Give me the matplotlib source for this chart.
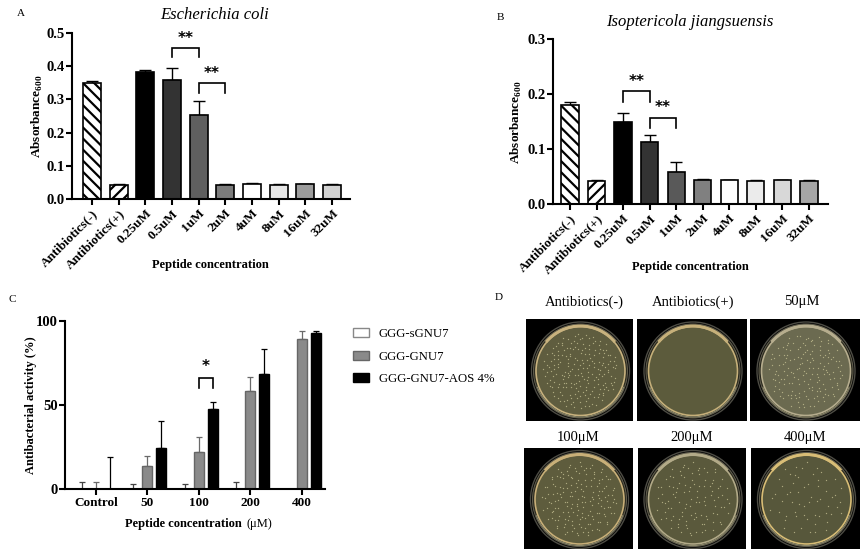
import numpy as np
import matplotlib
matplotlib.use("Agg")
import matplotlib.pyplot as plt
from matplotlib.patches import Circle, Arc, Rectangle

# ---------------- data ----------------
a_cats = ["Antibiotics(-)", "Antibiotics(+)", "0.25uM", "0.5uM", "1uM",
          "2uM", "4uM", "8uM", "16uM", "32uM"]
a_vals = [0.348, 0.043, 0.383, 0.357, 0.254, 0.043, 0.045, 0.043, 0.044, 0.043]
a_err = [0.006, 0.001, 0.006, 0.038, 0.040, 0.001, 0.002, 0.001, 0.001, 0.001]

b_cats = ["Antibiotics(-)", "Antibiotics(+)", "0.25uM", "0.5uM", "1uM",
          "2uM", "4uM", "8uM", "16uM", "32uM"]
b_vals = [0.180, 0.042, 0.149, 0.113, 0.059, 0.043, 0.043, 0.042, 0.043, 0.042]
b_err = [0.006, 0.001, 0.017, 0.012, 0.017, 0.002, 0.001, 0.001, 0.001, 0.001]

c_groups = ["Control", "50", "100", "200", "400"]
c_series = ["GGG-sGNU7", "GGG-GNU7", "GGG-GNU7-AOS 4%"]
c_sgnu7 = [0, 0, 0, 0, 0]
c_sgnu7_err = [4.4, 2.8, 2.8, 4.0, 0]
c_gnu7 = [0, 13.7, 22.2, 58.2, 89.1]
c_gnu7_err = [4.4, 6.1, 8.5, 8.5, 4.8]
c_aos = [0, 24.6, 47.7, 68.7, 92.9]
c_aos_err = [18.8, 15.8, 4.2, 14.9, 1.1]

d_labels = ["Antibiotics(-)", "Antibiotics(+)", "50\u03bcM", "100\u03bcM", "200\u03bcM", "400\u03bcM"]
d_colonies = [200, 0, 160, 170, 110, 60]

# significance annotations: (i, j, leg level, top level, text level)
a_sig = [(3, 4, 0.427, 0.454, 0.482), (4, 5, 0.318, 0.348, 0.378)]
b_sig = [(2, 3, 0.186, 0.206, 0.223), (3, 4, 0.138, 0.157, 0.175)]

# ---------------- style ----------------
plt.rcParams["font.family"] = ["Liberation Serif", "DejaVu Serif"]
plt.rcParams["mathtext.fontset"] = "custom"
plt.rcParams["mathtext.rm"] = "Liberation Serif"
plt.rcParams["mathtext.bf"] = "Liberation Serif:bold"
plt.rcParams["hatch.linewidth"] = 1.6

a_colors = ["white", "white", "#000000", "#333333", "#5f5f5f", "#7c7c7c",
            "#ffffff", "#e6e6e6", "#9c9c9c", "#d2d2d2"]
b_colors = ["white", "white", "#000000", "#333333", "#595959", "#808080",
            "#ffffff", "#ebebeb", "#d8d8d8", "#a6a6a6"]
hatches = ["\\\\\\", "///"] + [None] * 8

W, H = 865, 556
fig = plt.figure(figsize=(W / 100, H / 100), dpi=100)


def px_ax(l, t, r, b):
    return fig.add_axes([l / W, 1 - b / H, (r - l) / W, (b - t) / H])


def ftext(x, y, s, **kw):
    fig.text(x / W, 1 - y / H, s, **kw)


def style_axes(ax):
    for s in ["top", "right"]:
        ax.spines[s].set_visible(False)
    for s in ["left", "bottom"]:
        ax.spines[s].set_linewidth(1.5)
    ax.tick_params(direction="out", length=4, width=1.5, pad=2)
    ax.tick_params(axis="y", labelsize=10.5, pad=1.2)
    for lab in ax.get_yticklabels():
        lab.set_fontweight("bold")


def bracket(ax, x1, x2, ylo, yhi, ty, txt):
    ax.plot([x1, x1, x2, x2], [ylo, yhi, yhi, ylo], color="black", lw=1.2,
            clip_on=False, solid_joinstyle="miter")
    ax.text((x1 + x2) / 2, ty, txt, ha="center", va="center", fontsize=11,
            fontweight="bold", family="DejaVu Sans", clip_on=False)


def absorb_panel(ax, cats, vals, errs, colors, width, xlim, ymax, sig):
    x = np.arange(len(cats))
    bars = ax.bar(x, vals, width=width, color=colors, edgecolor="black",
                  linewidth=1.2, zorder=2)
    for b, h in zip(bars, hatches):
        if h:
            b.set_hatch(h)
    ax.errorbar(x, vals, yerr=[np.zeros(len(vals)), errs], fmt="none",
                ecolor="black", elinewidth=1, capsize=4, capthick=1, zorder=1)
    ax.set_xlim(*xlim)
    ax.set_ylim(0, ymax)
    ax.set_yticks(np.round(np.arange(0, ymax + 1e-9, 0.1), 1))
    ax.set_yticklabels([f"{v:.1f}" for v in np.arange(0, ymax + 1e-9, 0.1)])
    ax.set_xticks(x)
    ax.set_xticklabels(cats, rotation=45, ha="right", rotation_mode="anchor",
                       fontweight="bold", fontsize=9.5)
    style_axes(ax)
    for (i, j, lo, hi, ty) in sig:
        bracket(ax, i, j, lo, hi, ty, "**")


# ---------------- panel A ----------------
axA = px_ax(72, 33, 350, 199)
absorb_panel(axA, a_cats, a_vals, a_err, a_colors, 0.68, (-0.75, 9.675), 0.5, a_sig)
ftext(21, 13, "A", fontsize=8, ha="center", va="center")
ftext(215, 15, "Escherichia coli", fontsize=12, style="italic", ha="center", va="center")
ftext(37, 116, r"Absorbance$_{\mathbf{600}}$", fontsize=9.5, fontweight="bold",
      rotation=90, ha="center", va="center")
ftext(210, 265, "Peptide concentration", fontsize=9, fontweight="bold",
      ha="center", va="center")

# ---------------- panel B ----------------
axB = px_ax(553, 39, 828, 204)
absorb_panel(axB, b_cats, b_vals, b_err, b_colors, 0.65, (-0.64, 9.72), 0.3, b_sig)
ftext(500, 17, "B", fontsize=8, ha="center", va="center")
ftext(690, 22, "Isoptericola jiangsuensis", fontsize=12, style="italic",
      ha="center", va="center")
ftext(516, 122, r"Absorbance$_{\mathbf{600}}$", fontsize=9.5, fontweight="bold",
      rotation=90, ha="center", va="center")
ftext(690, 267, "Peptide concentration", fontsize=9, fontweight="bold",
      ha="center", va="center")

# ---------------- panel C ----------------
axC = px_ax(65, 321, 325, 489)
xc = np.arange(len(c_groups))
off, bw = 0.272, 0.19
z = np.zeros(len(c_groups))
b1 = axC.bar(xc - off, c_sgnu7, width=bw, color="white", edgecolor="#888888",
             linewidth=1, zorder=2, label=c_series[0])
axC.errorbar(xc - off, c_sgnu7, yerr=[z, c_sgnu7_err], fmt="none", ecolor="#444444",
             elinewidth=0.9, capsize=2.2, capthick=0.9, zorder=1)
b2 = axC.bar(xc, c_gnu7, width=bw, color="#8a8a8a", edgecolor="#666666",
             linewidth=1, zorder=2, label=c_series[1])
axC.errorbar(xc, c_gnu7, yerr=[z, c_gnu7_err], fmt="none", ecolor="#6a6a6a",
             elinewidth=0.9, capsize=2.2, capthick=0.9, zorder=1)
b3 = axC.bar(xc + off, c_aos, width=bw, color="black", edgecolor="black",
             linewidth=1, zorder=2, label=c_series[2])
axC.errorbar(xc + off, c_aos, yerr=[z, c_aos_err], fmt="none", ecolor="black",
             elinewidth=0.9, capsize=2.2, capthick=0.9, zorder=1)
axC.set_xlim(-0.6, 4.45)
axC.set_ylim(0, 100)
axC.set_yticks([0, 50, 100])
axC.set_xticks(xc)
axC.set_xticklabels(c_groups, fontweight="bold", fontsize=9.5)
style_axes(axC)
bracket(axC, 2, 2 + off, 60.2, 66.3, 72.7, "*")
ftext(12, 300, "C", fontsize=8, ha="center", va="center")
ftext(31, 405, "Antibacterial activity (%)", fontsize=9, fontweight="bold",
      rotation=90, ha="center", va="center")
ftext(245, 524, "Peptide concentration ", fontsize=9, fontweight="bold",
      ha="right", va="center")
ftext(246, 524, "(\u03bcM)", fontsize=9, ha="left", va="center")
fig.legend(handles=[b1, b2, b3], labels=c_series, loc="upper left",
           bbox_to_anchor=(347 / W, 1 - 322 / H), frameon=False, fontsize=9.2,
           borderpad=0, handlelength=1.25, handleheight=0.7, handletextpad=0.75,
           labelspacing=0.8)

# ---------------- panel D ----------------
def halton(idx, base):
    out = np.zeros(len(idx))
    for k, i in enumerate(idx):
        f, r, n = 1.0, 0.0, int(i)
        while n > 0:
            f /= base
            r += f * (n % base)
            n //= base
        out[k] = r
    return out


d_boxes = [(526, 319, 633, 421), (637, 319, 747, 421), (750, 319, 860, 421),
           (524, 448, 633, 549), (638, 448, 746, 549), (751, 448, 860, 549)]
d_label_pos = [(584, 302), (693, 302), (802, 302), (578, 438), (692, 438), (805, 438)]
agar_cols = ["#5f5d3f", "#5c5b3c", "#6b6a50", "#5e5c3d", "#5a593c", "#57573b"]
rim_cols = ["#c8b27e", "#c6b07a", "#b6ad8e", "#c8af78", "#b2aa88", "#d8bd76"]

for k, (l, t, r, b) in enumerate(d_boxes):
    ax = px_ax(l, t, r, b)
    w, h = r - l, b - t
    ax.set_xlim(0, w)
    ax.set_ylim(0, h)
    ax.set_axis_off()
    ax.add_patch(Rectangle((0, 0), w, h, color="black"))
    cx, cy = w / 2 + 1, h / 2 - 1
    ax.add_patch(Circle((cx, cy), 49, fill=False, ec="#4d4c44", lw=1.0))
    ax.add_patch(Circle((cx, cy), 47, fc="#2a291e", ec="#5f5c4c", lw=0.8))
    ax.add_patch(Circle((cx, cy), 44.5, fc=agar_cols[k], ec=rim_cols[k], lw=1.2))
    ax.add_patch(Arc((cx, cy), 90, 90, theta1=40, theta2=140, color=rim_cols[k], lw=2.2))
    ax.add_patch(Arc((cx, cy), 92, 92, theta1=200, theta2=340, color="#8e8a6c", lw=0.8))
    n = d_colonies[k]
    if n > 0:
        idx = np.arange(1, n + 1) + 53 * k
        u, v = halton(idx, 2), halton(idx, 3)
        rr = 38 * np.sqrt(u)
        th = 2 * np.pi * v
        ax.scatter(cx + rr * np.cos(th), cy + rr * np.sin(th), s=0.9,
                   color="#c9c496", alpha=0.75, linewidths=0, zorder=5)
    ftext(*d_label_pos[k], d_labels[k], fontsize=10.5, ha="center", va="center")

ftext(499, 298, "D", fontsize=8, ha="center", va="center")

fig.savefig("out.png", dpi=100)
